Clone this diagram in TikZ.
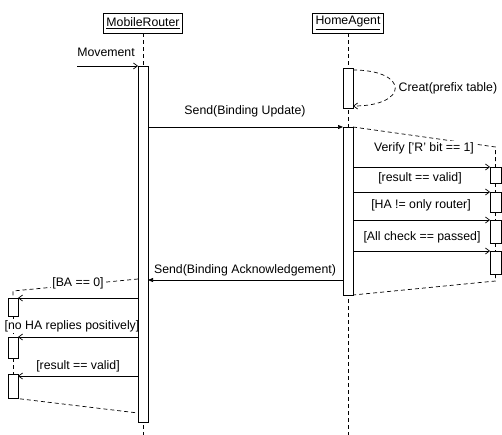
\documentclass[tikz,border=0pt]{standalone}
\usepackage{fontspec}
\setmainfont{Liberation Sans}
\usepackage{tikz}
\usetikzlibrary{arrows.meta}
\pgfdeclarelayer{edgelayer}
\pgfdeclarelayer{nodelayer}
\pgfsetlayers{edgelayer,nodelayer,main}
\tikzstyle{none}=[inner sep=0pt]
\tikzstyle{actor}=[draw, fill=white, line width=0.8pt, inner xsep=3pt, minimum height=20pt, font=\fontsize{12.3}{14}\selectfont]
\tikzstyle{msg text}=[inner sep=1.5pt, fill=white, font=\fontsize{12.3}{14}\selectfont]
\tikzstyle{call}=[line width=0.7pt, -{Straight Barb[length=4pt,width=6pt]}]
\tikzstyle{send}=[line width=0.7pt, -{Triangle[length=5pt,width=4pt]}]
\tikzstyle{life}=[line width=0.7pt, dash pattern=on 4pt off 3pt]
\tikzstyle{activation}=[draw, fill=white, line width=0.8pt]

\begin{document}
\begin{tikzpicture}[x=1pt, y=-1pt]
	\useasboundingbox (0, 0) rectangle (502, 435);
	\begin{pgfonlayer}{nodelayer}
		\node [style=actor] (0) at (143, 23) {\underline{MobileRouter}};
		\node [style=actor] (1) at (348, 23) {\underline{HomeAgent}};
		\node [style=none] (4) at (143, 435) {};
		\node [style=none] (5) at (348, 435) {};
		\node [style=none] (6) at (138, 66) {};
		\node [style=none] (7) at (148, 422) {};
		\node [style=none] (8) at (343, 68) {};
		\node [style=none] (9) at (353, 108) {};
		\node [style=none] (10) at (343, 127) {};
		\node [style=none] (11) at (353, 295) {};
		\node [style=none] (12) at (490, 167) {};
		\node [style=none] (13) at (501, 183) {};
		\node [style=none] (14) at (490, 192) {};
		\node [style=none] (15) at (501, 212) {};
		\node [style=none] (16) at (490, 220) {};
		\node [style=none] (17) at (501, 243) {};
		\node [style=none] (18) at (490, 251) {};
		\node [style=none] (19) at (501, 274) {};
		\node [style=none] (20) at (8, 298) {};
		\node [style=none] (21) at (18, 316) {};
		\node [style=none] (22) at (8, 337) {};
		\node [style=none] (23) at (18, 358) {};
		\node [style=none] (24) at (8, 374) {};
		\node [style=none] (25) at (18, 398) {};
		\node [style=none] (26) at (77, 66) {};
		\node [style=msg text] (27) at (106, 52) {Movement};
		\node [style=none] (28) at (353, 70) {};
		\node [style=none] (29) at (353, 106) {};
		\node [style=msg text, anchor=west] (30) at (397, 88) {Creat(prefix table)};
		\node [style=none] (31) at (148, 127) {};
		\node [style=msg text] (32) at (245, 111) {Send(Binding Update)};
		\node [style=none] (33) at (353, 127) {};
		\node [style=none] (34) at (495.5, 147) {};
		\node [style=none] (35) at (495.5, 167) {};
		\node [style=none] (36) at (353, 167) {};
		\node [style=msg text] (37) at (424, 148) {Verify ['R' bit == 1]};
		\node [style=none] (38) at (353, 192) {};
		\node [style=msg text] (39) at (420, 178) {[result == valid]};
		\node [style=none] (40) at (353, 220) {};
		\node [style=msg text] (42) at (421, 205) {[HA != only router]};
		\node [style=none] (43) at (353, 251) {};
		\node [style=msg text] (44) at (422, 237) {[All check == passed]};
		\node [style=none] (45) at (495.5, 183) {};
		\node [style=none] (46) at (495.5, 192) {};
		\node [style=none] (47) at (495.5, 212) {};
		\node [style=none] (48) at (495.5, 220) {};
		\node [style=none] (49) at (495.5, 243) {};
		\node [style=none] (50) at (495.5, 251) {};
		\node [style=none] (51) at (495.5, 274) {};
		\node [style=none] (52) at (495.5, 281) {};
		\node [style=none] (53) at (343, 280) {};
		\node [style=none] (54) at (148, 280) {};
		\node [style=msg text] (55) at (245, 270) {Send(Binding Acknowledgement)};
		\node [style=none] (56) at (138, 279) {};
		\node [style=none] (57) at (13, 291) {};
		\node [style=none] (58) at (13, 298) {};
		\node [style=msg text] (59) at (78, 283) {[BA == 0]};
		\node [style=none] (60) at (138, 298) {};
		\node [style=none] (61) at (18, 298) {};
		\node [style=none] (62) at (13, 316) {};
		\node [style=none] (63) at (13, 337) {};
		\node [style=msg text] (64) at (72, 326) {[no HA replies positively]};
		\node [style=none] (65) at (138, 337) {};
		\node [style=none] (66) at (18, 337) {};
		\node [style=none] (67) at (13, 358) {};
		\node [style=none] (68) at (13, 374) {};
		\node [style=msg text] (69) at (78, 366) {[result == valid]};
		\node [style=none] (70) at (138, 376) {};
		\node [style=none] (71) at (18, 376) {};
		\node [style=none] (72) at (13, 398) {};
		\node [style=none] (73) at (138, 413) {};
	\end{pgfonlayer}
	\begin{pgfonlayer}{edgelayer}
		\draw [style=life] (0.south) to (4.center);
		\draw [style=life] (1.south) to (5.center);
		\draw [style=call] (26.center) to (6.center);
		\draw [style=life, style=call] (28.center) to [out=0, in=0, looseness=4] (29.center);
		\draw [style=send] (31.center) to (10.center);
		\draw [style=life] (33.center) to (34.center) to (35.center);
		\draw [style=call] (36.center) to (12.center);
		\draw [style=call] (38.center) to (14.center);
		\draw [style=call] (40.center) to (16.center);
		\draw [style=call] (43.center) to (18.center);
		\draw [style=life] (45.center) to (46.center);
		\draw [style=life] (47.center) to (48.center);
		\draw [style=life] (49.center) to (50.center);
		\draw [style=life] (51.center) to (52.center) to (11.center);
		\draw [style=send] (53.center) to (54.center);
		\draw [style=life] (56.center) to (57.center) to (58.center);
		\draw [style=call] (60.center) to (61.center);
		\draw [style=life] (62.center) to (63.center);
		\draw [style=call] (65.center) to (66.center);
		\draw [style=life] (67.center) to (68.center);
		\draw [style=call] (70.center) to (71.center);
		\draw [style=life] (72.center) to (73.center);
	\end{pgfonlayer}
	\draw [style=activation] (6.center) rectangle (7.center);
	\draw [style=activation] (8.center) rectangle (9.center);
	\draw [style=activation] (10.center) rectangle (11.center);
	\draw [style=activation] (12.center) rectangle (13.center);
	\draw [style=activation] (14.center) rectangle (15.center);
	\draw [style=activation] (16.center) rectangle (17.center);
	\draw [style=activation] (18.center) rectangle (19.center);
	\draw [style=activation] (20.center) rectangle (21.center);
	\draw [style=activation] (22.center) rectangle (23.center);
	\draw [style=activation] (24.center) rectangle (25.center);
\end{tikzpicture}
\end{document}
